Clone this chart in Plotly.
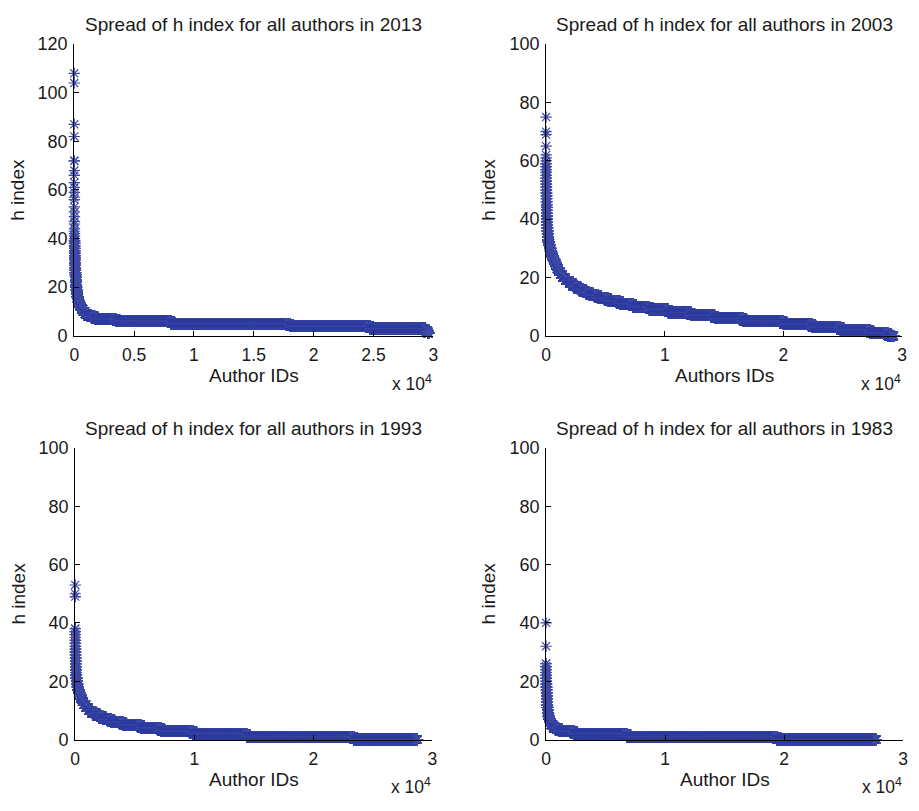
import numpy as np
import plotly.graph_objects as go

# ---- data: h-index levels (sorted descending) and the last author ID holding each level ----
levels_2013 = [108, 104, 87, 82, 72, 72, 68, 66, 63, 61, 59, 57, 56, 53, 51, 49, 47, 46, 44, 43, 42, 41, 40,
               39, 38, 37, 36, 35, 34, 33, 32, 31, 30, 29, 28, 27, 26, 25, 24, 23, 22, 21, 20,
               19, 18, 17, 16, 15, 14, 13, 12, 11, 10, 9, 8, 7, 6, 5, 4, 3, 2, 1]
ends_2013 = [1, 2, 3, 4, 5, 6, 7, 8, 9, 10, 11, 12, 13, 14, 15, 16, 17, 18, 19, 20, 21, 22, 23,
             27, 31, 35, 39, 44, 49, 54, 60, 66, 73, 80, 88, 96, 105, 115, 126, 138, 152, 168, 186,
             207, 232, 262, 300, 348, 410, 490, 595, 735, 900, 1100, 1700, 3500, 8100, 18000, 24700, 29350, 29550, 29620]

levels_2003 = [75, 70, 69, 65, 62, 61, 60,
               59, 58, 57, 56, 55, 54, 53, 52, 51, 50, 49, 48, 47, 46, 45, 44, 43, 42, 41, 40,
               39, 38, 37, 36, 35, 34, 33, 32, 31, 30, 29, 28, 27, 26, 25, 24, 23, 22, 21, 20,
               19, 18, 17, 16, 15, 14, 13, 12, 11, 10, 9, 8, 7, 6, 5, 4, 3, 2, 1, 0]
ends_2003 = [1, 2, 3, 4, 5, 6, 7,
             10, 12, 14, 16, 18, 21, 24, 27, 30, 33, 37, 41, 45, 50, 55, 60, 66, 73, 80, 88,
             97, 107, 118, 130, 145, 170, 200, 250, 310, 380, 450, 530, 620, 720, 820, 930, 1060, 1220, 1400, 1650,
             1950, 2250, 2650, 3100, 3650, 4350, 5200, 6200, 7300, 8700, 10300, 12200, 14200, 16600, 20000, 22400,
             24800, 27300, 28800, 29300]

levels_1993 = [53, 50, 49,
               38, 37, 36, 35, 34, 33, 32, 31, 30, 29, 28, 27, 26, 25, 24, 23, 22, 21, 20,
               19, 18, 17, 16, 15, 14, 13, 12, 11, 10, 9, 8, 7, 6, 5, 4, 3, 2, 1, 0]
ends_1993 = [1, 2, 3,
             5, 7, 9, 11, 13, 16, 19, 22, 26, 30, 35, 40, 46, 53, 62, 75, 95, 120, 150,
             190, 240, 300, 370, 460, 580, 720, 900, 1100, 1400, 1800, 2300, 3000, 4000, 5500, 7200,
             9900, 14400, 23400, 28750]

levels_1983 = [40, 32,
               26, 25, 24, 23, 22, 21, 20, 19, 18, 17, 16, 15, 14, 13, 12, 11, 10,
               9, 8, 7, 6, 5, 4, 3, 2, 1, 0]
ends_1983 = [1, 2,
             4, 7, 10, 13, 17, 21, 26, 32, 39, 47, 56, 66, 78, 92, 110, 135, 165,
             200, 250, 320, 420, 600, 1050, 2330, 6800, 19400, 27750]

titles = ["Spread of h index for all authors in 2013", "Spread of h index for all authors in 2003",
          "Spread of h index for all authors in 1993", "Spread of h index for all authors in 1983"]
xlabels = ["Author IDs", "Authors IDs", "Author IDs", "Author IDs"]
ylabel = "h index"
xticks_fine = [0, 0.5, 1, 1.5, 2, 2.5, 3]
xticks_coarse = [0, 1, 2, 3]
yticks_120 = [0, 20, 40, 60, 80, 100, 120]
yticks_100 = [0, 20, 40, 60, 80, 100]

# ---- layout geometry ----
W, H = 919, 811
COLOR = "#3f4ba6"
FONT = "Liberation Sans, Arial, Helvetica, sans-serif"
TXT = "#1a1a1a"


def px_x(p):
    return p / W


def px_y(p):
    return 1 - p / H


panels = [
    dict(levels=levels_2013, ends=ends_2013, xd=(70, 433), yd=(35, 334), ymax=120, yt=yticks_120, xt=xticks_fine),
    dict(levels=levels_2003, ends=ends_2003, xd=(547, 907), yd=(35, 334), ymax=100, yt=yticks_100, xt=xticks_coarse),
    dict(levels=levels_1993, ends=ends_1993, xd=(71, 432), yd=(449, 748), ymax=100, yt=yticks_100, xt=xticks_coarse),
    dict(levels=levels_1983, ends=ends_1983, xd=(547, 908), yd=(449, 748), ymax=100, yt=yticks_100, xt=xticks_coarse),
]

fig = go.Figure()
annotations = []
layout = dict(width=W, height=H, margin=dict(l=0, r=0, t=0, b=0), plot_bgcolor="white",
              paper_bgcolor="white", showlegend=False)

for i, p in enumerate(panels):
    n = i + 1
    counts = np.diff([0] + p["ends"])
    y = np.repeat(p["levels"], counts)
    x = np.arange(1, len(y) + 1)
    xa = "x" if n == 1 else f"x{n}"
    ya = "y" if n == 1 else f"y{n}"
    fig.add_trace(go.Scatter(
        x=x, y=y, mode="markers", xaxis=xa, yaxis=ya, cliponaxis=False, hoverinfo="skip",
        marker=dict(symbol="asterisk-open", size=9.5, color=COLOR, line=dict(width=1.2, color=COLOR)),
    ))
    xkey = "xaxis" if n == 1 else f"xaxis{n}"
    ykey = "yaxis" if n == 1 else f"yaxis{n}"
    x0, x1 = p["xd"]
    ytop, ybot = p["yd"]
    layout[xkey] = dict(
        domain=[px_x(x0), px_x(x1)], anchor=ya, range=[0, 30000],
        tickvals=[v * 1e4 for v in p["xt"]], ticktext=[("%g" % v) for v in p["xt"]],
        showline=True, linecolor="#000", linewidth=1, ticks="inside", ticklen=5, tickcolor="#000",
        showgrid=False, zeroline=False, tickfont=dict(family=FONT, size=17.5, color=TXT),
        ticklabelstandoff=3,
    )
    layout[ykey] = dict(
        domain=[px_y(ybot), px_y(ytop)], anchor=xa, range=[0, p["ymax"]],
        tickvals=p["yt"], ticktext=[str(v) for v in p["yt"]],
        showline=True, linecolor="#000", linewidth=1, ticks="inside", ticklen=5, tickcolor="#000",
        showgrid=False, zeroline=False, tickfont=dict(family=FONT, size=18, color=TXT),
        ticklabelstandoff=2,
    )
    cx = (x0 + x1) / 2
    annotations.append(dict(text=titles[i], x=px_x(cx), y=px_y(ytop - 20), xref="paper", yref="paper",
                            showarrow=False, xanchor="center", yanchor="middle",
                            font=dict(family=FONT, size=19, color=TXT)))
    annotations.append(dict(text=xlabels[i], x=px_x(cx), y=px_y(ybot + 41), xref="paper", yref="paper",
                            showarrow=False, xanchor="center", yanchor="middle",
                            font=dict(family=FONT, size=19, color=TXT)))
    annotations.append(dict(text="x 10<sup>4</sup>", x=px_x(x1 + 1), y=px_y(ybot + 48), xref="paper", yref="paper",
                            showarrow=False, xanchor="right", yanchor="middle",
                            font=dict(family=FONT, size=17.5, color=TXT)))
    annotations.append(dict(text=ylabel, x=px_x(x0 - 57 if i % 2 == 0 else x0 - 58), y=px_y((ytop + ybot) / 2),
                            xref="paper", yref="paper", showarrow=False, textangle=-90,
                            xanchor="center", yanchor="middle",
                            font=dict(family=FONT, size=19, color=TXT)))

layout["annotations"] = annotations
fig.update_layout(**layout)
fig.write_html("out.html")
